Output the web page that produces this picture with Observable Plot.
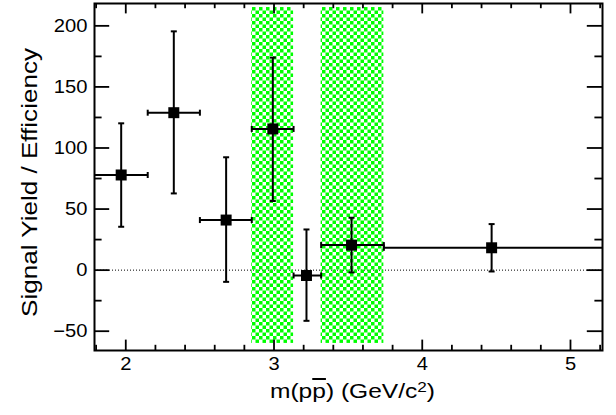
<!DOCTYPE html>
<html><head><meta charset="utf-8">
<script src="https://cdn.jsdelivr.net/npm/d3@7"></script>
<script src="https://cdn.jsdelivr.net/npm/@observablehq/plot@0.6"></script>
<style>body{margin:0;background:#fff} svg{display:block}</style>
</head><body><div id="chart"></div>
<script>
// ---- data ----
const massCenter = [1.969, 2.324, 2.677, 2.992, 3.219, 3.523, 4.468];
const binLow     = [1.78, 2.148, 2.500, 2.850, 3.132, 3.318, 3.741];
const binHigh    = [2.148, 2.500, 2.850, 3.132, 3.318, 3.741, 5.25];
const yieldValue = [77.9, 128.9, 41.0, 115.6, -4.4, 20.5, 18.3];
const errLow     = [35.5, 62.8, -9.6, 56.6, -41.5, -1.9, -1.1];
const errHigh    = [120.2, 195.5, 92.4, 174.0, 33.3, 42.9, 37.7];
const bandLow    = [2.850, 3.318];
const bandHigh   = [3.132, 3.741];
const bandBottom = [-60, -60];
const bandTop    = [215, 215];
const xMajorTicks = [2, 3, 4, 5];
const xMinorTicks = [1.8, 2.2, 2.4, 2.6, 2.8, 3.2, 3.4, 3.6, 3.8, 4.2, 4.4, 4.6, 4.8, 5.2];
const yMajorTicks = [-50, 0, 50, 100, 150, 200];
const yMinorTicks = [-25, 25, 75, 125, 175];
const xDomain = [1.789, 5.216];
const yDomain = [-65.8, 218.3];

// ---- layout ----
const W = 616, H = 415;
const mL = 94, mR = 14, mT = 3, mB = 65;
const innerW = W - mL - mR;
const innerH = H - mT - mB;

const points = massCenter.map((x, i) => ({x, lo: binLow[i], hi: binHigh[i], y: yieldValue[i], ylo: errLow[i], yhi: errHigh[i]}));
const bands = bandLow.map((x1, i) => ({x1, x2: bandHigh[i], y1: bandBottom[i], y2: bandTop[i]}));

const hCap = {draw(ctx) { ctx.moveTo(-3, 0); ctx.lineTo(3, 0); }};
const vCap = {draw(ctx) { ctx.moveTo(0, -3); ctx.lineTo(0, 3); }};

const font = "'Liberation Sans', Arial, Helvetica, sans-serif";
const intFmt = d3.format("d");

const svg = Plot.plot({
  width: W, height: H,
  marginLeft: mL, marginRight: mR, marginTop: mT, marginBottom: mB,
  style: {fontFamily: font, fontSize: "18px", color: "black", background: "white", overflow: "visible"},
  x: {domain: xDomain},
  y: {domain: yDomain},
  marks: [
    Plot.ruleY([0], {stroke: "black", strokeWidth: 1, strokeDasharray: "1,2"}),
    Plot.rect(bands, {x1: "x1", x2: "x2", y1: "y1", y2: "y2", fill: "url(#checker)"}),
    Plot.link(points, {x1: "x", x2: "x", y1: "ylo", y2: "yhi", stroke: "black", strokeWidth: 2}),
    Plot.link(points, {x1: "lo", x2: "hi", y1: "y", y2: "y", stroke: "black", strokeWidth: 2, clip: true}),
    Plot.dot(points, {x: "x", y: "yhi", symbol: hCap, fill: "none", stroke: "black", strokeWidth: 2}),
    Plot.dot(points, {x: "x", y: "ylo", symbol: hCap, fill: "none", stroke: "black", strokeWidth: 2}),
    Plot.dot(points, {x: "lo", y: "y", symbol: vCap, fill: "none", stroke: "black", strokeWidth: 2, clip: true}),
    Plot.dot(points, {x: "hi", y: "y", symbol: vCap, fill: "none", stroke: "black", strokeWidth: 2, clip: true}),
    Plot.dot(points, {x: "x", y: "y", symbol: "square", r: 6.2, fill: "black", stroke: "none"}),
    // inward ticks (ROOT style)
    Plot.tickX(xMajorTicks, {insetTop: innerH - 10.4, stroke: "black", strokeWidth: 1.8}),
    Plot.tickX(xMinorTicks, {insetTop: innerH - 5.2, stroke: "black", strokeWidth: 1.8}),
    Plot.tickX(xMajorTicks, {insetBottom: innerH - 10.4, stroke: "black", strokeWidth: 1.8}),
    Plot.tickX(xMinorTicks, {insetBottom: innerH - 5.2, stroke: "black", strokeWidth: 1.8}),
    Plot.tickY(yMajorTicks, {insetRight: innerW - 15.2, stroke: "black", strokeWidth: 1.8}),
    Plot.tickY(yMinorTicks, {insetRight: innerW - 7.6, stroke: "black", strokeWidth: 1.8}),
    Plot.tickY(yMajorTicks, {insetLeft: innerW - 15.2, stroke: "black", strokeWidth: 1.8}),
    Plot.tickY(yMinorTicks, {insetLeft: innerW - 7.6, stroke: "black", strokeWidth: 1.8}),
    Plot.axisX({ticks: xMajorTicks, tickFormat: intFmt, tickSize: 0, tickPadding: 7, label: null, fontSize: 18}),
    Plot.axisY({ticks: yMajorTicks, tickFormat: intFmt, tickSize: 0, tickPadding: 7, label: null, fontSize: 18}),
    Plot.frame({stroke: "black", strokeWidth: 2})
  ]
});

document.getElementById("chart").append(svg);

const s = d3.select(svg);
// checkerboard hatch pattern
const defs = s.insert("defs", ":first-child");
const pat = defs.append("pattern").attr("id", "checker").attr("patternUnits", "userSpaceOnUse")
  .attr("width", 7).attr("height", 7);
pat.append("rect").attr("x", 0).attr("y", 0).attr("width", 3.5).attr("height", 3.5).attr("fill", "#00ff00");
pat.append("rect").attr("x", 3.5).attr("y", 3.5).attr("width", 3.5).attr("height", 3.5).attr("fill", "#00ff00");

// widen tick labels slightly (reference glyphs are wider than Arial)
s.selectAll('g[aria-label="x-axis tick label"] text, g[aria-label="y-axis tick label"] text').each(function() {
  const len = this.getComputedTextLength();
  this.setAttribute("textLength", (len * 1.12).toFixed(1));
  this.setAttribute("lengthAdjust", "spacingAndGlyphs");
});

// x title: m(p p̄) (GeV/c²)
const xt = s.append("text").attr("x", 270).attr("y", 398).attr("text-anchor", "start")
  .attr("font-family", font).attr("font-size", 20).attr("fill", "black");
xt.append("tspan").text("m(p");
xt.append("tspan").attr("text-decoration", "overline").text("p");
xt.append("tspan").text(") (GeV/c");
xt.append("tspan").attr("font-size", 14).attr("dy", -6.5).text("2");
xt.append("tspan").attr("dy", 6.5).text(")");
xt.attr("textLength", 165).attr("lengthAdjust", "spacingAndGlyphs");

// y title
s.append("text").attr("transform", "translate(36.5,317) rotate(-90)").attr("text-anchor", "start")
  .attr("font-family", font).attr("font-size", 22).attr("fill", "black")
  .attr("textLength", 269).attr("lengthAdjust", "spacingAndGlyphs")
  .text("Signal Yield / Efficiency");
</script>
</body></html>
